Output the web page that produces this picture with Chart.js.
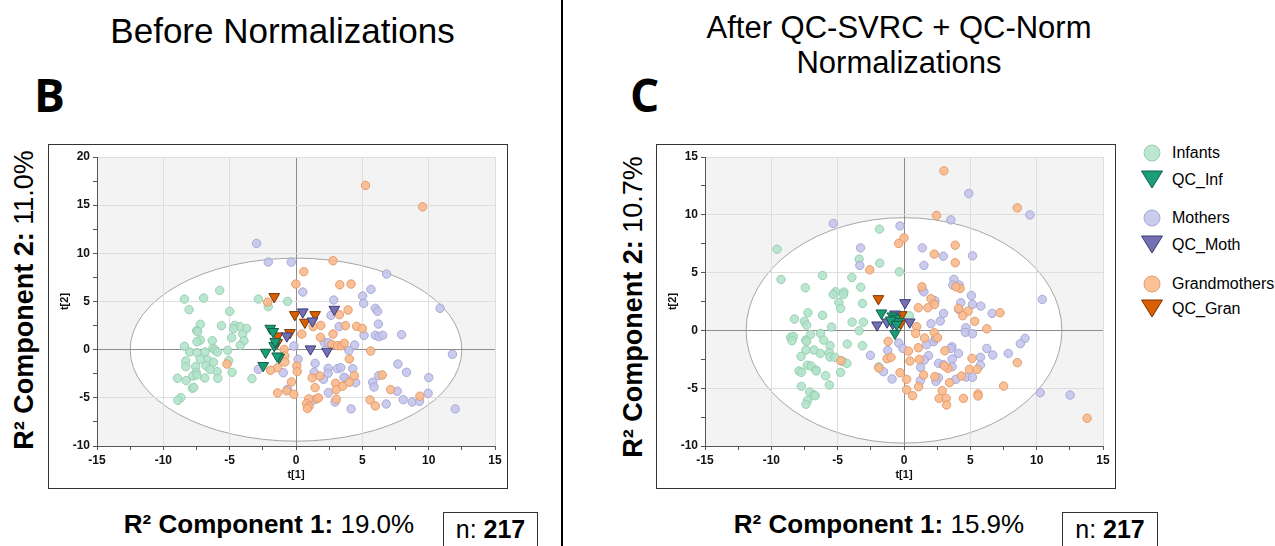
<!DOCTYPE html>
<html>
<head>
<meta charset="utf-8">
<script src="https://cdn.jsdelivr.net/npm/chart.js@4/dist/chart.umd.min.js"></script>
<style>
  body { margin: 0; width: 1275px; height: 546px; background: #fff; position: relative; overflow: hidden; font-family: "Liberation Sans", Arial, sans-serif; color: #000; }
  .abs { position: absolute; }
  .frame { position: absolute; border: 1px solid #333; box-sizing: border-box; }
  canvas { position: absolute; }
  .title { position: absolute; text-align: center; white-space: nowrap; }
  .panel { position: absolute; font-family: "Open Sans", sans-serif; font-weight: bold; font-size: 46px; line-height: 50px; }
  .ylab, .xlab { position: absolute; width: 400px; height: 30px; line-height: 30px; text-align: center; white-space: nowrap; }
  .ylab { font-size: 27px; transform: rotate(-90deg); }
  .xlab { font-size: 26px; }
  .nbox { position: absolute; border: 1px solid #333; height: 40px; box-sizing: border-box; text-align: center; font-size: 25px; line-height: 30px; padding-top: 1px; }
  .leg { position: absolute; left: 1140px; height: 20px; line-height: 20px; font-size: 16px; white-space: nowrap; }
  .leg svg { position: absolute; left: 0; top: -3px; }
  .leg span { position: absolute; left: 32px; top: 0; }
</style>
</head>
<body>
<script>
// ---- Before normalizations (panel B) ----
const beforeInfants = [[-5.75,6.15],[-8.41,5.25],[-6.96,5.36],[-2.84,5.25],[-0.64,5.01],[-2.09,4.46],[-8.06,4.15],[-5.0,3.98],[-7.21,2.63],[-4.62,2.52],[-5.62,2.49],[-4.22,2.39],[-3.72,2.21],[-4.7,2.18],[-7.49,1.97],[-7.41,1.87],[-4.02,1.62],[-4.85,1.24],[-3.92,0.93],[-7.21,1.0],[-6.31,0.93],[-7.46,0.83],[-4.2,0.45],[-8.41,0.35],[-6.26,0.14],[-6.11,-0.03],[-8.01,-0.24],[-6.86,-0.24],[-5.93,-0.24],[-5.15,-0.07],[-7.48,-0.31],[-6.65,-1.07],[-8.31,-1.18],[-7.21,-1.0],[-5.08,-1.14],[-6.23,-1.31],[-8.31,-1.76],[-7.56,-1.76],[-6.78,-1.66],[-5.95,-2.28],[-4.82,-2.35],[-7.53,-2.35],[-7.78,-2.73],[-8.93,-2.97],[-8.28,-3.21],[-6.88,-2.94],[-5.9,-2.97],[-3.32,-3.01],[-7.48,-2.63],[-7.81,-4.01],[-7.71,-3.91],[-8.68,-4.98],[-8.9,-5.26],[-6.48,-2.07]];
const beforeQcInf = [[-1.94,2.21],[-1.72,1.87],[-2.29,-0.28],[-1.64,0.41],[-2.47,-1.66],[-1.27,-0.8],[-1.42,-0.66],[-1.57,0.83]];
const beforeMothers = [[-2.97,11.03],[-2.09,9.09],[-0.36,9.09],[6.83,7.85],[0.51,5.98],[5.65,6.26],[5.02,5.57],[5.1,4.8],[2.84,5.15],[5.98,4.29],[6.15,3.98],[10.86,4.29],[2.64,3.56],[6.21,2.66],[3.25,2.39],[5.13,1.49],[5.98,1.49],[6.25,1.35],[6.53,1.49],[7.96,1.56],[2.13,0.76],[2.42,0.73],[4.42,0.48],[-0.16,0.38],[3.99,-0.1],[11.79,-0.48],[0.16,-1.0],[1.44,-1.42],[7.68,-1.49],[-2.84,-2.04],[2.42,-1.94],[3.12,-1.97],[3.37,-1.87],[4.28,-1.97],[-0.96,-2.39],[1.37,-2.35],[8.33,-2.35],[2.42,-2.45],[2.07,-3.08],[3.7,-2.94],[3.62,-2.87],[10.01,-2.9],[4.5,-3.42],[5.78,-3.39],[5.88,-3.87],[6.23,-2.7],[7.63,-4.32],[-0.64,-4.11],[2.44,-4.46],[9.96,-4.53],[1.35,-5.22],[2.94,-5.43],[6.8,-5.64],[8.08,-5.19],[8.76,-5.43],[9.31,-5.36],[4.15,-6.15],[12.0,-6.15]];
const beforeQcMoth = [[0.51,3.91],[1.24,2.97],[2.89,4.18],[-0.69,1.42],[1.09,0.07],[2.34,-0.17]];
const beforeGrand = [[5.24,17.05],[9.54,14.83],[2.79,9.23],[0.59,8.09],[-0.01,6.81],[3.3,6.74],[4.15,6.81],[-2.14,4.94],[3.92,4.11],[3.27,3.63],[1.87,2.52],[3.72,2.49],[4.57,2.42],[5.0,2.21],[0.44,1.62],[2.79,1.62],[1.84,1.28],[1.29,2.39],[2.69,0.52],[3.12,0.41],[3.42,0.41],[3.64,0.66],[-0.89,0.03],[5.63,-0.14],[-0.84,-0.66],[4.02,-0.97],[-5.2,-1.49],[-0.84,-1.28],[-1.39,-1.87],[0.06,-1.69],[-1.92,-2.14],[0.09,-2.28],[1.22,-2.93],[1.79,-2.73],[4.4,-2.7],[6.5,-2.63],[-0.34,-3.35],[2.99,-3.49],[4.02,-3.39],[1.44,-3.94],[3.5,-3.8],[3.02,-4.15],[7.13,-4.15],[-0.71,-4.28],[-1.39,-4.49],[-0.16,-4.63],[0.96,-5.11],[1.56,-5.11],[1.69,-5.0],[3.04,-5.14],[5.58,-5.21],[9.34,-4.83],[0.79,-5.6],[0.99,-5.88],[5.98,-5.84],[0.86,-6.1]];
const beforeQcGran = [[-1.64,5.5],[-0.09,3.63],[1.44,3.63],[0.67,2.84],[-0.46,1.76],[-1.39,1.42],[-1.42,0.73]];
const beforeEllipse = [12.5, 9.5];

// ---- After QC-SVRC + QC-Norm (panel C) ----
const afterInfants = [[-1.85,8.76],[-9.57,7.03],[-3.38,6.16],[-1.83,5.82],[-9.27,4.41],[-6.14,4.75],[-3.93,4.58],[-0.35,5.07],[-7.44,3.69],[-3.26,3.74],[-5.16,3.34],[-5.33,3.11],[-4.53,3.31],[-4.56,3.11],[-4.91,2.42],[-3.13,2.33],[-4.78,1.9],[-7.24,1.53],[-6.14,1.3],[-8.26,0.98],[-7.51,0.78],[-7.34,0.46],[-3.91,0.72],[-3.06,0.72],[0.4,1.27],[-5.46,0.29],[-3.38,-0.03],[-7.04,-0.35],[-6.29,-0.26],[-8.54,-0.6],[-8.34,-0.52],[-8.44,-0.89],[-7.41,-0.84],[-7.34,-0.95],[-6.06,-0.84],[-5.58,-1.32],[-4.28,-1.18],[-3.13,-1.32],[-7.39,-1.7],[-6.79,-1.7],[-6.31,-1.99],[-5.63,-1.93],[-5.58,-2.3],[-5.21,-2.33],[-7.76,-2.25],[-4.63,-2.68],[-4.31,-2.85],[-7.29,-3.02],[-7.01,-3.08],[-6.64,-3.43],[-6.61,-3.51],[-7.91,-3.51],[-7.74,-3.63],[-4.78,-3.63],[-1.9,-3.14],[-5.91,-3.92],[-5.63,-4.72],[-7.74,-4.84],[-7.11,-5.33],[-6.79,-5.59],[-6.69,-5.65],[-7.26,-6.05],[-7.39,-6.39]];
const afterQcInf = [[-1.7,1.5],[-0.88,1.24],[-0.63,1.04],[-0.43,0.75],[-0.68,-0.26],[-1.0,0.89],[-0.55,0.52]];
const afterMothers = [[4.88,11.84],[9.49,9.99],[-5.33,9.25],[3.53,9.56],[-0.3,9.04],[-3.28,7.14],[1.38,7.14],[2.96,6.42],[5.16,6.45],[-3.33,5.62],[1.5,5.62],[3.76,4.41],[3.68,3.92],[4.16,3.92],[1.4,3.49],[1.5,3.34],[5.08,3.02],[10.42,2.68],[2.33,2.56],[4.28,2.39],[5.16,2.25],[5.79,2.1],[4.13,1.81],[2.98,1.47],[6.64,1.47],[2.73,0.81],[2.03,0.58],[4.66,0.23],[4.63,-0.17],[5.16,-0.29],[9.12,-0.69],[8.77,-1.15],[2.23,-0.98],[2.38,-0.69],[-0.4,-1.09],[-0.08,-1.56],[1.7,-1.24],[3.61,-1.41],[3.53,-1.56],[6.24,-1.56],[4.11,-1.99],[7.86,-1.99],[-1.23,-1.73],[6.69,-2.13],[-2.53,-2.16],[1.85,-2.19],[1.53,-2.56],[3.63,-2.48],[5.76,-2.33],[2.6,-2.85],[2.98,-2.97],[3.63,-3.14],[1.25,-3.2],[5.76,-3.0],[-1.55,-3.57],[4.68,-4.03],[5.16,-4.06],[2.6,-4.09],[3.91,-4.23],[-0.9,-4.2],[1.23,-4.35],[2.4,-4.41],[10.27,-5.39],[12.52,-5.59]];
const afterQcMoth = [[0.08,2.39],[-2.03,0.46],[-0.68,1.41],[-1.28,0.72],[0.43,0.72],[-0.85,0.6]];
const afterGrand = [[3.01,13.8],[8.54,10.6],[2.45,9.94],[0.0,8.0],[-0.4,7.52],[3.86,7.37],[2.28,6.6],[3.86,5.85],[-2.58,5.24],[1.35,3.77],[4.23,3.63],[3.91,3.77],[2.03,2.74],[2.3,2.25],[1.08,1.96],[1.8,1.96],[4.11,1.9],[4.83,1.67],[4.43,1.27],[7.24,1.53],[5.33,0.78],[6.24,0.14],[0.95,0.32],[0.88,-0.26],[1.55,-0.66],[2.28,-0.2],[2.53,-0.63],[-1.2,-0.95],[1.08,-1.5],[3.08,-1.76],[0.33,-1.79],[-4.76,-2.62],[-1.28,-2.45],[-0.98,-2.33],[1.15,-2.51],[0.45,-2.65],[5.13,-2.42],[8.54,-2.79],[3.31,-3.28],[3.06,-3.08],[4.93,-3.37],[5.51,-3.37],[-1.9,-3.25],[-0.3,-3.66],[1.48,-3.86],[2.33,-4.0],[4.33,-3.95],[0.2,-4.23],[3.43,-4.52],[1.1,-4.87],[7.51,-4.81],[0.2,-5.13],[2.88,-5.21],[0.65,-5.65],[2.65,-5.88],[3.18,-5.88],[4.48,-5.88],[5.58,-5.5],[5.58,-5.67],[3.21,-6.45],[13.8,-7.6]];
const afterQcGran = [[-1.93,2.74],[-0.18,1.35],[-0.25,0.6]];
const afterEllipse = [11.9, 9.75];

const groupNames = ["Infants", "QC_Inf", "Mothers", "QC_Moth", "Grandmothers", "QC_Gran"];
const groupFill = ["rgba(178,226,201,0.88)", "#1b9e77", "rgba(196,196,236,0.88)", "#7570b3", "rgba(249,185,140,0.9)", "#d95f02"];
const groupBorder = ["#98d0b3", "#105e47", "#a9a9d8", "#3f3b78", "#e49c6c", "#7a3500"];
const isQc = [false, true, false, true, false, true];

const tickFont = { family: "'Liberation Sans', Arial, sans-serif", weight: "bold", size: 12 };

// grey area with the white T2 ellipse behind the grid
const ellipsePlugin = {
    id: "ellipseBg",
    beforeDraw(chart, args, opts) {
        const { ctx, chartArea: a, scales } = chart;
        const x = scales.x, y = scales.y;
        ctx.save();
        ctx.fillStyle = "#f3f3f3";
        ctx.fillRect(a.left, a.top, a.right - a.left, a.bottom - a.top);
        const cx = x.getPixelForValue(0), cy = y.getPixelForValue(0);
        const rx = x.getPixelForValue(opts.rx) - cx;
        const ry = cy - y.getPixelForValue(opts.ry);
        ctx.beginPath();
        ctx.ellipse(cx, cy, rx, ry, 0, 0, Math.PI * 2);
        ctx.fillStyle = "#fff";
        ctx.fill();
        ctx.strokeStyle = "#a6a6a6";
        ctx.lineWidth = 1;
        ctx.stroke();
        ctx.restore();
    },
};

function axis(min, max, title, isX) {
    return {
        type: "linear",
        min: min,
        max: max,
        afterFit: (s) => {
            if (isX) s.height = 42;
            else s.width = 48;
        },
        ticks: {
            stepSize: 2.5,
            autoSkip: false,
            maxRotation: 0,
            padding: 3,
            color: "#111",
            font: tickFont,
            callback: (v) => (v % 5 === 0 ? v : ""),
        },
        grid: {
            color: (c) => {
                const v = c.tick ? c.tick.value : 1;
                if (v === 0) return "#8c8c8c";
                return v % 5 === 0 ? "#dedede" : "rgba(0,0,0,0)";
            },
            tickColor: "#555",
            tickLength: 4,
        },
        border: { color: "#555", width: 1 },
        title: {
            display: true,
            text: title,
            color: "#111",
            font: { family: tickFont.family, weight: "bold", size: 11 },
            padding: isX ? { top: 0, bottom: 6 } : { top: 9, bottom: 0 },
        },
    };
}

function makeChart(id, left, yMax, ell, groups) {
    const cv = document.createElement("canvas");
    cv.id = id;
    cv.width = 458;
    cv.height = 343;
    cv.style.left = left + "px";
    cv.style.top = "145px";
    document.body.appendChild(cv);

    const datasets = groups.map((g, i) => ({
        label: groupNames[i],
        data: g.map((p) => ({ x: p[0], y: p[1] })),
        backgroundColor: groupFill[i],
        borderColor: groupBorder[i],
        borderWidth: 1,
        pointStyle: isQc[i] ? "triangle" : "circle",
        pointRotation: isQc[i] ? 180 : 0,
        pointRadius: isQc[i] ? 6.2 : 4.2,
        order: isQc[i] ? 0 : 6 - i,
    }));

    return new Chart(cv.getContext("2d"), {
        type: "scatter",
        data: { datasets: datasets },
        options: {
            responsive: false,
            animation: false,
            layout: { padding: { left: 0, top: 12, right: 12, bottom: 0 } },
            plugins: {
                legend: { display: false },
                tooltip: { enabled: false },
                ellipseBg: { rx: ell[0], ry: ell[1] },
            },
            scales: {
                x: axis(-15, 15, "t[1]", true),
                y: axis(-10, yMax, "t[2]", false),
            },
        },
        plugins: [ellipsePlugin],
    });
}

makeChart("beforeChart", 49, 20, beforeEllipse,
    [beforeInfants, beforeQcInf, beforeMothers, beforeQcMoth, beforeGrand, beforeQcGran]);
makeChart("afterChart", 657, 15, afterEllipse,
    [afterInfants, afterQcInf, afterMothers, afterQcMoth, afterGrand, afterQcGran]);
</script>

<div class="abs" style="left:561px; top:0; width:2px; height:546px; background:#000;"></div>
<div class="frame" style="left:48px; top:144px; width:460px; height:345px;"></div>
<div class="frame" style="left:656px; top:144px; width:460px; height:345px;"></div>

<div class="title" style="left:0; top:11px; width:565px; font-size:35px; line-height:40px;">Before Normalizations</div>
<div class="title" style="left:649px; top:10px; width:500px; font-size:31px; line-height:35px;">After QC-SVRC + QC-Norm<br>Normalizations</div>

<div class="panel" style="left:34px; top:69px;">B</div>
<div class="panel" style="left:630px; top:69px;">C</div>

<div class="ylab" style="left:-176px; top:285px;"><b>R² Component 2:</b> 11.0%</div>
<div class="ylab" style="left:433px; top:292px;"><b>R² Component 2:</b> 10.7%</div>

<div class="xlab" style="left:69px; top:509px;"><b>R² Component 1:</b> 19.0%</div>
<div class="xlab" style="left:679px; top:509px;"><b>R² Component 1:</b> 15.9%</div>

<div class="nbox" style="left:443px; top:512px; width:95px;">n: <b>217</b></div>
<div class="nbox" style="left:1062px; top:512px; width:96px;">n: <b>217</b></div>

<div id="legend"></div>
<script>
const legendRows = [153, 180, 218, 244.5, 283.5, 308.5];
const legendEl = document.getElementById("legend");
groupNames.forEach((name, i) => {
    const row = document.createElement("div");
    row.className = "leg";
    row.style.top = legendRows[i] - 10 + "px";
    const shape = isQc[i]
        ? '<polygon points="1.5,4 22.5,4 12,21" fill="' + groupFill[i] + '" stroke="' + groupBorder[i] + '" stroke-width="1"/>'
        : '<circle cx="12" cy="13" r="8" fill="' + groupFill[i] + '" stroke="' + groupBorder[i] + '" stroke-width="1"/>';
    row.innerHTML = '<svg width="24" height="26">' + shape + "</svg><span>" + name + "</span>";
    legendEl.appendChild(row);
});
</script>
</body>
</html>
